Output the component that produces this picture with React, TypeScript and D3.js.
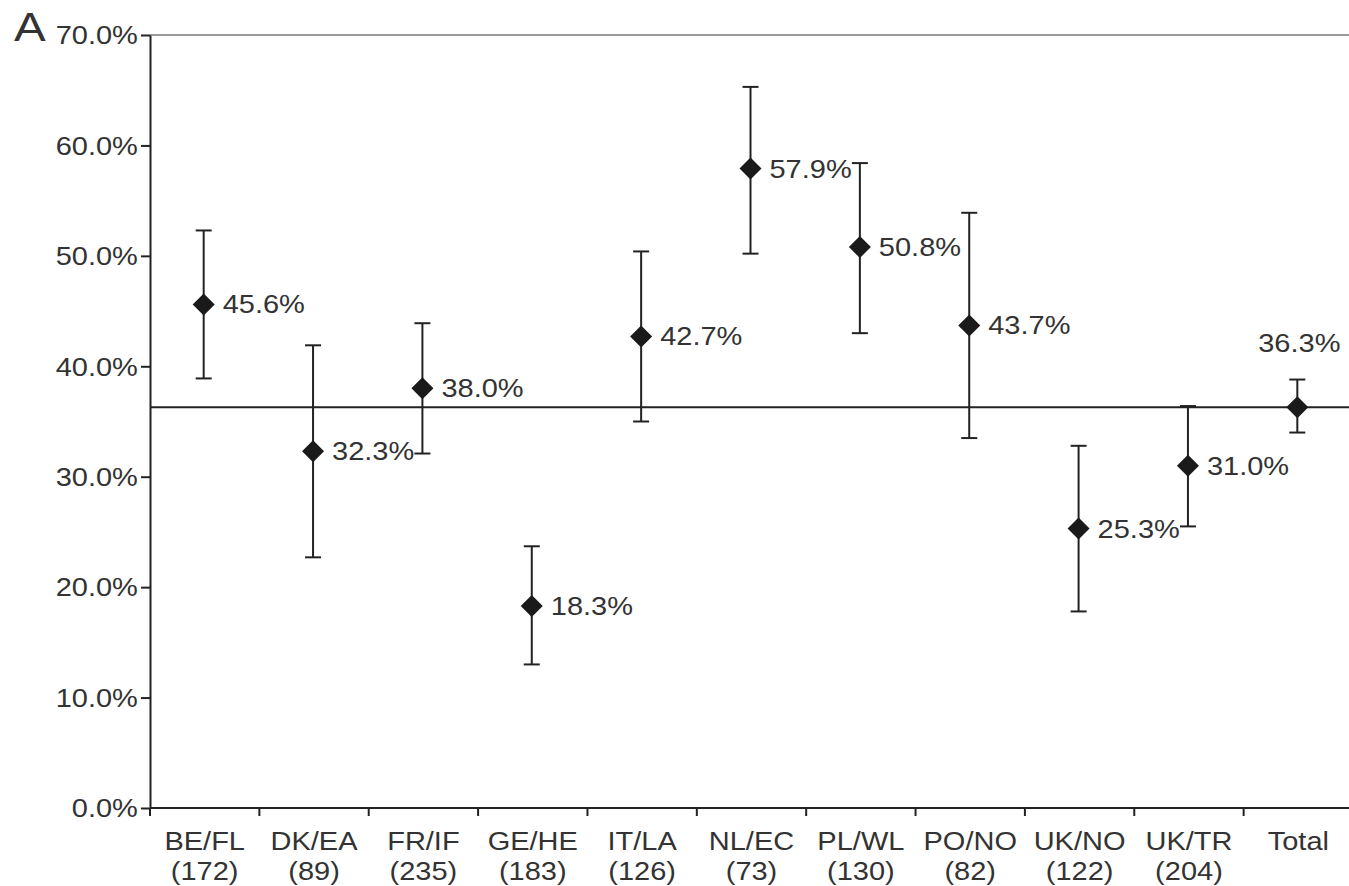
import React, { useEffect, useRef } from 'react';
import * as d3 from 'd3';

// regions and the number of respondents in each
const regions = ['BE/FL', 'DK/EA', 'FR/IF', 'GE/HE', 'IT/LA', 'NL/EC', 'PL/WL', 'PO/NO', 'UK/NO', 'UK/TR', 'Total'];
const sampleSizes = ['(172)', '(89)', '(235)', '(183)', '(126)', '(73)', '(130)', '(82)', '(122)', '(204)', ''];
// percentages with their confidence intervals
const estimates = [45.6, 32.3, 38.0, 18.3, 42.7, 57.9, 50.8, 43.7, 25.3, 31.0, 36.3];
const lowerCI = [38.9, 22.7, 32.1, 13.0, 35.0, 50.2, 43.0, 33.5, 17.8, 25.5, 34.0];
const upperCI = [52.3, 41.9, 43.9, 23.7, 50.4, 65.3, 58.4, 53.9, 32.8, 36.4, 38.8];
const overall = 36.3;
const yTicks = [0, 10, 20, 30, 40, 50, 60, 70];

const W = 1349;
const H = 886;
const FONT = '"Liberation Sans", Arial, Helvetica, sans-serif';
const SX = 1.16; // the source picture is stretched a bit horizontally
const INK = '#222';
const TXT = '#333';

export default function App() {
  const ref = useRef<SVGSVGElement | null>(null);

  useEffect(() => {
    const svg = d3.select(ref.current);
    svg.selectAll('*').remove();

    const left = 150;
    const x = d3.scaleBand().domain(regions).range([left, 1353]).padding(0);
    const y = d3.scaleLinear().domain([0, 70]).range([808, 35]);

    const addText = (px: number, py: number, str: string, anchor: string, size = 25) =>
      svg.append('text')
        .attr('transform', `translate(${px},${py}) scale(${SX},1)`)
        .attr('text-anchor', anchor)
        .attr('font-family', FONT)
        .attr('font-size', size)
        .attr('fill', TXT)
        .text(str);

    // panel letter
    addText(14, 41, 'A', 'start', 41);

    // top border line
    svg.append('line')
      .attr('x1', left).attr('x2', W)
      .attr('y1', y(70)).attr('y2', y(70))
      .attr('stroke', '#999').attr('stroke-width', 2);

    // y axis
    const yAxis = svg.append('g')
      .attr('transform', `translate(${left},0)`)
      .call(d3.axisLeft(y).tickValues(yTicks).tickSize(9).tickSizeOuter(0)
        .tickFormat(d => (d as number).toFixed(1) + '%'));
    yAxis.select('.domain').attr('stroke', INK).attr('stroke-width', 2);
    yAxis.selectAll('.tick line').attr('stroke', INK).attr('stroke-width', 2);
    yAxis.selectAll('.tick text')
      .attr('font-family', FONT).attr('font-size', 25).attr('fill', TXT)
      .attr('x', -10.5).attr('dy', '0.35em')
      .attr('transform', `scale(${SX},1)`);

    // x axis line and ticks at band boundaries
    svg.append('line')
      .attr('x1', left).attr('x2', W)
      .attr('y1', y(0)).attr('y2', y(0))
      .attr('stroke', INK).attr('stroke-width', 2);
    const edges = regions.map(r => x(r) as number);
    svg.selectAll('.xtick').data(edges).enter().append('line')
      .attr('x1', d => d).attr('x2', d => d)
      .attr('y1', y(0)).attr('y2', y(0) + 8)
      .attr('stroke', INK).attr('stroke-width', 2);

    regions.forEach((r, i) => {
      const cx = (x(r) as number) + x.bandwidth() / 2;
      addText(cx, 850, r, 'middle');
      if (sampleSizes[i]) addText(cx, 880, sampleSizes[i], 'middle');
    });

    // overall reference line
    svg.append('line')
      .attr('x1', left).attr('x2', W)
      .attr('y1', y(overall)).attr('y2', y(overall))
      .attr('stroke', INK).attr('stroke-width', 2);

    // error bars, markers, labels
    const cap = 8;
    regions.forEach((r, i) => {
      const cx = (x(r) as number) + x.bandwidth() / 2 - 1;
      const g = svg.append('g').attr('stroke', INK).attr('stroke-width', 2);
      g.append('line').attr('x1', cx).attr('x2', cx).attr('y1', y(lowerCI[i])).attr('y2', y(upperCI[i]));
      g.append('line').attr('x1', cx - cap).attr('x2', cx + cap).attr('y1', y(lowerCI[i])).attr('y2', y(lowerCI[i]));
      g.append('line').attr('x1', cx - cap).attr('x2', cx + cap).attr('y1', y(upperCI[i])).attr('y2', y(upperCI[i]));

      const cy = y(estimates[i]);
      svg.append('path')
        .attr('d', `M${cx},${cy - 11}L${cx + 11},${cy}L${cx},${cy + 11}L${cx - 11},${cy}Z`)
        .attr('fill', '#1a1a1a');

      const label = estimates[i].toFixed(1) + '%';
      if (i === regions.length - 1) {
        addText(cx + 2, 352, label, 'middle');
      } else {
        addText(cx + 19, cy + 9, label, 'start');
      }
    });
  }, []);

  return (
    <svg
      ref={ref}
      width={W}
      height={H}
      style={{ position: 'absolute', left: 0, top: 0, background: '#fff' }}
    />
  );
}
